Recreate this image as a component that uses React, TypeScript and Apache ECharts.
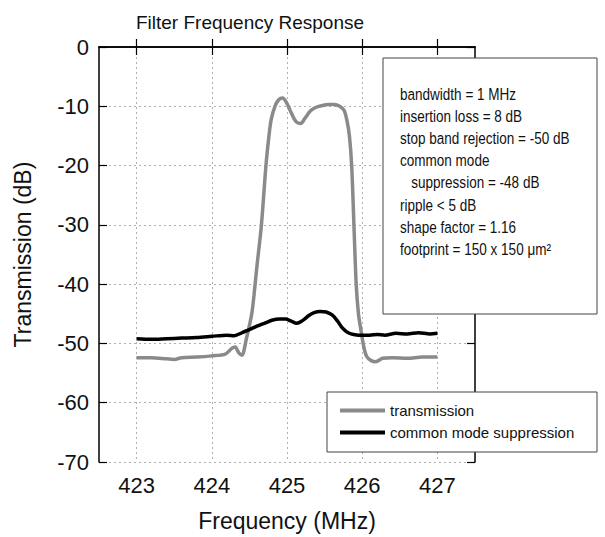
import React, { useEffect, useRef } from "react";
import * as echarts from "echarts";

const FONT = "'Liberation Sans', Arial, sans-serif";

const xTicks = [423, 424, 425, 426, 427];

const transFreq = [
  423.0, 423.2, 423.4, 423.5, 423.6, 423.8, 424.0, 424.18, 424.27, 424.31, 424.36, 424.4,
  424.46, 424.53, 424.56, 424.6, 424.66, 424.72, 424.76, 424.79, 424.84, 424.89, 424.94,
  424.99, 425.06, 425.12, 425.18, 425.24, 425.31, 425.38, 425.46, 425.55, 425.63, 425.7,
  425.76, 425.8, 425.83, 425.86, 425.89, 425.92, 425.95, 425.98, 426.02, 426.06, 426.12,
  426.18, 426.27, 426.4, 426.6, 426.8, 427.0,
];
const transDb = [
  -52.4, -52.4, -52.6, -52.7, -52.4, -52.3, -52.1, -51.8, -50.8, -50.6, -51.6, -52.0,
  -49.2, -45.1, -42, -37, -30, -20, -15, -12.2, -10, -8.9, -8.6,
  -9.3, -11.2, -12.6, -12.9, -12.0, -10.8, -10.2, -9.9, -9.7, -9.7, -10.0,
  -10.7, -12.6, -15, -20, -30, -40, -45, -47.5, -50.5, -52.2, -52.9,
  -53.1, -52.5, -52.4, -52.5, -52.3, -52.3,
];

const cmFreq = [
  423.0, 423.2, 423.4, 423.6, 423.8, 424.0, 424.2, 424.3, 424.4, 424.49, 424.6, 424.7,
  424.8, 424.9, 424.98, 425.05, 425.13, 425.2, 425.29, 425.36, 425.44, 425.52, 425.6,
  425.67, 425.73, 425.79, 425.85, 425.95, 426.1, 426.2, 426.3, 426.45, 426.6, 426.75,
  426.9, 427.0,
];
const cmDb = [
  -49.2, -49.3, -49.2, -49.1, -49.0, -48.8, -48.6, -48.7, -48.2, -47.7, -47.1, -46.6,
  -46.1, -45.9, -45.9, -46.2, -46.6, -46.2, -45.3, -44.8, -44.6, -44.7, -45.2,
  -46.2, -47.3, -48.0, -48.4, -48.6, -48.6, -48.5, -48.6, -48.3, -48.4, -48.2,
  -48.4, -48.3,
];

const infoLines = [
  "bandwidth = 1 MHz",
  "insertion loss = 8 dB",
  "stop band rejection = -50 dB",
  "common mode",
  "   suppression = -48 dB",
  "ripple < 5 dB",
  "shape factor = 1.16",
  "footprint = 150 x 150 μm²",
];

export default function App() {
  const ref = useRef<HTMLDivElement>(null);
  useEffect(() => {
    if (!ref.current) return;
    const chart = echarts.init(ref.current, undefined, { renderer: "svg" });
    const gridLine = { show: true, lineStyle: { color: "#b0b0b0", width: 1, type: [2, 3] as any } };
    const baseX = {
      type: "value" as const,
      min: 422.5,
      max: 427.5,
      axisLine: { show: true, lineStyle: { color: "#000", width: 1.5 } },
    };
    const baseY = {
      type: "value" as const,
      min: -70,
      max: 0,
      interval: 10,
      axisLine: { show: true, lineStyle: { color: "#000", width: 1.5 } },
    };
    chart.setOption({
      animation: false,
      backgroundColor: "#fff",
      title: {
        text: "Filter Frequency Response",
        left: 245,
        top: 8,
        textAlign: "center",
        textStyle: { fontFamily: FONT, fontSize: 19, fontWeight: "normal", color: "#111" },
      },
      grid: { left: 99, top: 47, right: 130, bottom: 67 },
      xAxis: [
        {
          ...baseX,
          position: "bottom",
          name: "Frequency (MHz)",
          nameLocation: "middle",
          nameGap: 47,
          nameTextStyle: { fontFamily: FONT, fontSize: 23, color: "#111" },
          axisTick: { show: true, inside: true, length: 8, customValues: xTicks, lineStyle: { color: "#000", width: 1.2 } },
          axisLabel: { customValues: xTicks, fontFamily: FONT, fontSize: 22, color: "#111", margin: 12 },
          splitLine: gridLine,
        },
        {
          ...baseX,
          position: "top",
          axisTick: { show: true, inside: true, length: 8, customValues: xTicks, lineStyle: { color: "#000", width: 1.2 } },
          axisLabel: { show: false },
          splitLine: { show: false },
        },
      ],
      yAxis: [
        {
          ...baseY,
          position: "left",
          name: "Transmission (dB)",
          nameLocation: "middle",
          nameGap: 65,
          nameTextStyle: { fontFamily: FONT, fontSize: 23, color: "#111" },
          axisTick: { show: true, inside: true, length: 8, lineStyle: { color: "#000", width: 1.2 } },
          axisLabel: { fontFamily: FONT, fontSize: 22, color: "#111", margin: 10 },
          splitLine: gridLine,
        },
        {
          ...baseY,
          position: "right",
          axisTick: { show: true, inside: true, length: 8, lineStyle: { color: "#000", width: 1.2 } },
          axisLabel: { show: false },
          splitLine: { show: false },
        },
      ],
      legend: {
        orient: "vertical",
        left: 340,
        top: 403,
        z: 60,
        icon: "rect",
        itemWidth: 45,
        itemHeight: 4,
        itemGap: 7,
        itemSymbolGap: 6,
        padding: 0,
        textStyle: { fontFamily: FONT, fontSize: 15, color: "#111" },
        data: ["transmission", "common mode suppression"],
      },
      graphic: [
        {
          type: "rect",
          z: 50,
          shape: { x: 383, y: 58, width: 214, height: 256 },
          style: { fill: "#fff", stroke: "#444", lineWidth: 1 },
        },
        {
          type: "rect",
          z: 50,
          shape: { x: 327, y: 392, width: 270, height: 60 },
          style: { fill: "#fff", stroke: "#444", lineWidth: 1 },
        },
        ...infoLines.map((t, i) => ({
          type: "text",
          z: 55,
          x: 400,
          y: 94 + i * 22.1,
          scaleX: 0.82,
          style: {
            text: t,
            fontFamily: FONT,
            fontSize: 16.5,
            fill: "#111",
            verticalAlign: "middle",
          },
        })),
      ],
      series: [
        {
          name: "transmission",
          type: "line",
          xAxisIndex: 0,
          yAxisIndex: 0,
          data: transFreq.map((f, i) => [f, transDb[i]]),
          showSymbol: false,
          symbol: "none",
          smooth: 0.3,
          lineStyle: { color: "#8a8a8a", width: 3.5 },
          itemStyle: { color: "#8a8a8a" },
        },
        {
          name: "common mode suppression",
          type: "line",
          xAxisIndex: 0,
          yAxisIndex: 0,
          data: cmFreq.map((f, i) => [f, cmDb[i]]),
          showSymbol: false,
          symbol: "none",
          smooth: 0.3,
          lineStyle: { color: "#000", width: 3.5 },
          itemStyle: { color: "#000" },
        },
      ],
    });
    return () => chart.dispose();
  }, []);
  return <div ref={ref} style={{ width: 605, height: 537, position: "absolute", left: 0, top: 0 }} />;
}
